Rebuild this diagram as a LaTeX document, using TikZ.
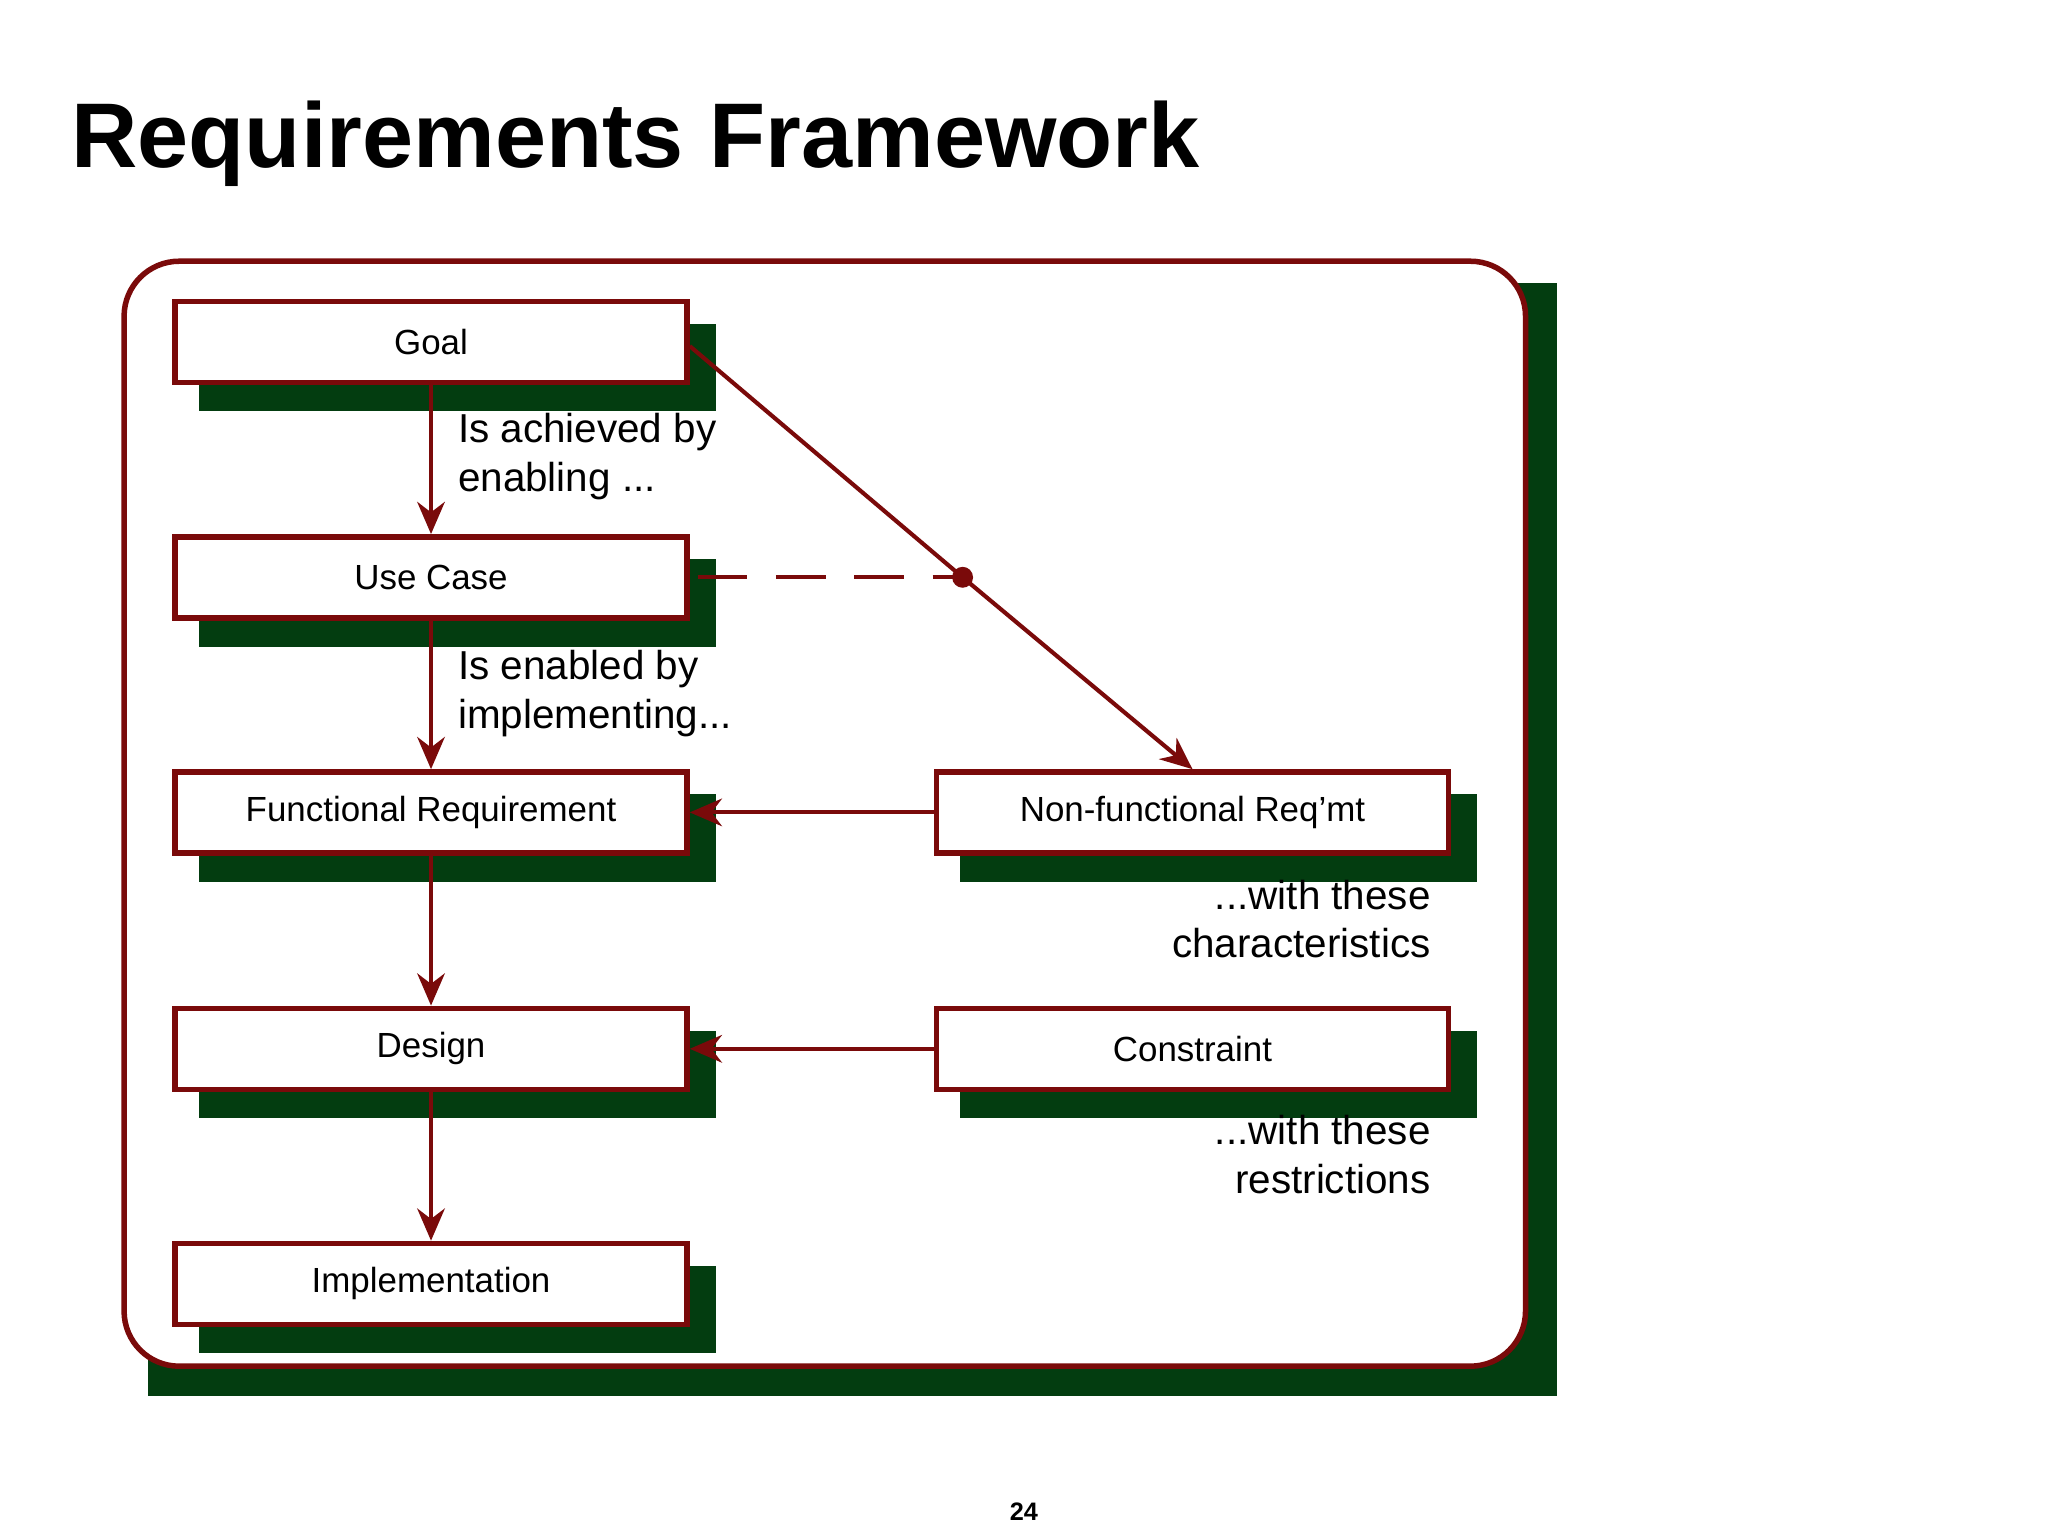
\documentclass[tikz,border=0pt]{standalone}
\usepackage{fontspec}
\setmainfont{Liberation Sans}
\usetikzlibrary{arrows.meta}
\definecolor{dred}{HTML}{7A0A0A}
\definecolor{dgreen}{HTML}{033D10}
\begin{document}
\begin{tikzpicture}[x=0.01cm,y=-0.01cm,
  box/.style={draw=dred,line width=1.2pt,fill=white,minimum width=392*0.01cm,minimum height=62*0.01cm,font=\fontsize{7.6pt}{9pt}\selectfont,inner sep=0pt},
  lbl/.style={font=\fontsize{8.8pt}{10.6pt}\selectfont,inner sep=0pt},
  conn/.style={draw=dred,line width=0.9pt},
  arr/.style={conn,-{Stealth[length=7pt,width=6pt]}}]
\useasboundingbox (0,0) rectangle (1568,1176);
\fill[white] (0,0) rectangle (1568,1176);
\node[anchor=west,font=\bfseries\fontsize{20pt}{24pt}\selectfont,inner sep=0pt] (title) at (54,110) {Requirements Framework};
% frame
\fill[dgreen] (113,217) rectangle (1192,1069);
\draw[dred,line width=1.2pt,fill=white,rounded corners=12] (95,200) rectangle (1168,1046);
% shadows
\foreach \y in {262,442,622,803,983} {\fill[dgreen] (152,\y-14) rectangle (548,\y+53);}
\foreach \y in {622,803} {\fill[dgreen] (735,\y-14) rectangle (1131,\y+53);}
\node[box] (goal) at (330,262) {Goal};
\node[box] (uc) at (330,442) {Use Case};
\node[box] (fr) at (330,622) {Functional Requirement};
\node[box] (des) at (330,803) {Design};
\node[box] (imp) at (330,983) {Implementation};
\node[box] (nfr) at (913,622) {Non-functional Req’mt};
\node[box] (con) at (913,803) {Constraint};
\coordinate (dot) at (737,442);
\draw[arr] (goal) -- (uc);
\draw[arr] (uc) -- (fr);
\draw[arr] (fr) -- (des);
\draw[arr] (des) -- (imp);
\draw[arr] (nfr) -- (fr);
\draw[arr] (con) -- (des);
\draw[conn] (goal.east) ++(0,3) -- (dot);
\draw[arr] (dot) -- (nfr.north);
\draw[conn,dash pattern=on 38*0.01cm off 22*0.01cm] (uc.east) ++(6,0) -- (dot);
\fill[dred] (dot) circle (8);
\node[lbl,anchor=north west,align=left] (l1) at (350,316) {Is achieved by\\enabling ...};
\node[lbl,anchor=north west,align=left] (l2) at (350,497) {Is enabled by\\implementing...};
\node[lbl,anchor=north east,align=right] (l3) at (1096,673) {...with these\\characteristics};
\node[lbl,anchor=north east,align=right] (l4) at (1096,853) {...with these\\restrictions};
\node[font=\bfseries\fontsize{5.5pt}{6pt}\selectfont,inner sep=0pt] (pg) at (784,1157) {24};
\end{tikzpicture}
\end{document}
